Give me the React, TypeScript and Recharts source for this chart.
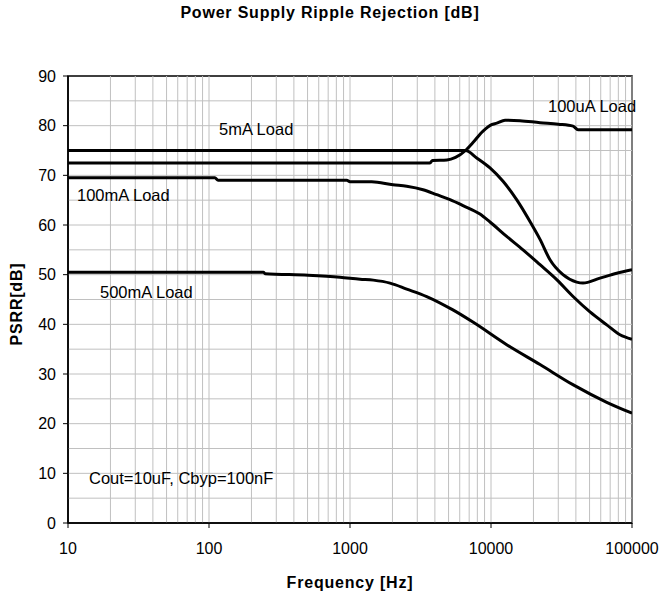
import React from 'react';
import {
  Line,
  LineChart,
  ReferenceArea,
  ReferenceLine,
  XAxis,
  YAxis,
} from 'recharts';

// frequency [Hz] / PSRR [dB]
const freq5mA = [10, 6600, 7920, 9840, 12170, 15200, 18900, 22270, 26200, 32400, 40500, 44900, 59300, 77900, 100000];
const db5mA = [75, 75, 73.5, 71.5, 68.8, 65.1, 60.7, 57.1, 53, 50, 48.5, 48.3, 49.3, 50.3, 51];

const freq100uA = [10, 3690, 3850, 4870, 5600, 6600, 7450, 8780, 10100, 11000, 12570, 16060, 22270, 30000, 38200, 41400, 100000];
const db100uA = [72.5, 72.5, 73, 73.1, 73.6, 75, 76.6, 78.9, 80.2, 80.5, 81.1, 81, 80.6, 80.3, 79.9, 79.2, 79.2];

const freq100mA = [10, 110, 116, 948, 1000, 1426, 2018, 2525, 3296, 4120, 5120, 6330, 8350, 9840, 12920, 16870, 22270, 29240, 38200, 50340, 66200, 82200, 100000];
const db100mA = [69.5, 69.5, 69, 69, 68.7, 68.7, 68.1, 67.8, 67.1, 66.1, 65.1, 63.9, 62.2, 60.6, 57.7, 55, 52, 49, 45.6, 42.5, 39.9, 37.9, 37];

const freq500mA = [10, 243, 250, 504, 849, 1178, 1463, 1922, 2525, 3500, 5370, 7490, 12920, 22270, 38370, 66200, 100000];
const db500mA = [50.5, 50.5, 50.2, 49.9, 49.5, 49.1, 48.9, 48.3, 47.1, 45.6, 42.9, 40.4, 35.9, 31.9, 27.8, 24.3, 22.1];

const xTicks = [10, 100, 1000, 10000, 100000];
const yTicks = [0, 10, 20, 30, 40, 50, 60, 70, 80, 90];
const gridY = [5, 10, 15, 20, 25, 30, 35, 40, 45, 50, 55, 60, 65, 70, 75, 80, 85];
const gridX = [10, 100, 1000, 10000].flatMap((d) => [2, 3, 4, 5, 6, 7, 8, 9, 10].map((m) => d * m));

const toPoints = (f: number[], v: number[]) => f.map((x, i) => ({ f: x, db: v[i] }));

const series = [
  { name: '5mA Load', data: toPoints(freq5mA, db5mA) },
  { name: '100uA Load', data: toPoints(freq100uA, db100uA) },
  { name: '100mA Load', data: toPoints(freq100mA, db100mA) },
  { name: '500mA Load', data: toPoints(freq500mA, db500mA) },
];

const font = '"Liberation Sans", Arial, sans-serif';
const tickStyle = { fontSize: 16, fill: '#000', fontFamily: font };

const notes = [
  { text: '5mA Load', left: 219, cy: 129 },
  { text: '100uA Load', left: 548, cy: 106 },
  { text: '100mA Load', left: 77, cy: 195 },
  { text: '500mA Load', left: 100, cy: 292 },
  { text: 'Cout=10uF, Cbyp=100nF', left: 89, cy: 478 },
];

export default function App() {
  return (
    <div style={{ position: 'absolute', left: 0, top: 0, width: 660, height: 592, background: '#fff', fontFamily: font }}>
      <LineChart width={660} height={592} margin={{ top: 76, right: 28, bottom: 29, left: 8 }}>
        <XAxis
          dataKey="f"
          type="number"
          scale="log"
          domain={[10, 100000]}
          ticks={xTicks}
          allowDataOverflow
          height={40}
          tick={tickStyle}
          tickSize={5}
          tickMargin={15}
          tickLine={{ stroke: '#000' }}
          axisLine={{ stroke: '#000', strokeWidth: 1.5 }}
        />
        <YAxis
          type="number"
          domain={[0, 90]}
          ticks={yTicks}
          allowDataOverflow
          width={60}
          tick={tickStyle}
          tickSize={5}
          tickMargin={7}
          tickLine={{ stroke: '#000' }}
          axisLine={{ stroke: '#000', strokeWidth: 1.5 }}
        />
        {gridY.map((v) => (
          <ReferenceLine key={'gy' + v} y={v} stroke="#c0c0c0" strokeWidth={1} />
        ))}
        {gridX.map((v) => (
          <ReferenceLine key={'gx' + v} x={v} stroke="#c0c0c0" strokeWidth={1} />
        ))}
        <ReferenceArea x1={10} x2={100000} y1={0} y2={90} fill="none" stroke="#000" strokeWidth={1.5} ifOverflow="visible" />
        {series.map((s) => (
          <Line
            key={s.name}
            data={s.data}
            dataKey="db"
            name={s.name}
            type="monotone"
            stroke="#000"
            strokeWidth={3}
            dot={false}
            isAnimationActive={false}
          />
        ))}
      </LineChart>

      <div style={{ position: 'absolute', left: 0, top: 5, width: 660, textAlign: 'center', fontSize: 16, fontWeight: 'bold', letterSpacing: 0.8, lineHeight: 1, whiteSpace: 'nowrap' }}>
        Power Supply Ripple Rejection [dB]
      </div>
      <div style={{ position: 'absolute', left: 68, top: 575, width: 564, textAlign: 'center', fontSize: 16, fontWeight: 'bold', letterSpacing: 0.8, lineHeight: 1, whiteSpace: 'nowrap' }}>
        Frequency [Hz]
      </div>
      <div style={{ position: 'absolute', left: 17, top: 304, transform: 'translate(-50%, -50%) rotate(-90deg)', fontSize: 16, fontWeight: 'bold', letterSpacing: 0.8, lineHeight: 1, whiteSpace: 'nowrap' }}>
        PSRR[dB]
      </div>
      {notes.map((n) => (
        <div key={n.text} style={{ position: 'absolute', left: n.left, top: n.cy - 8, fontSize: 16.5, lineHeight: 1, whiteSpace: 'nowrap' }}>
          {n.text}
        </div>
      ))}
    </div>
  );
}
